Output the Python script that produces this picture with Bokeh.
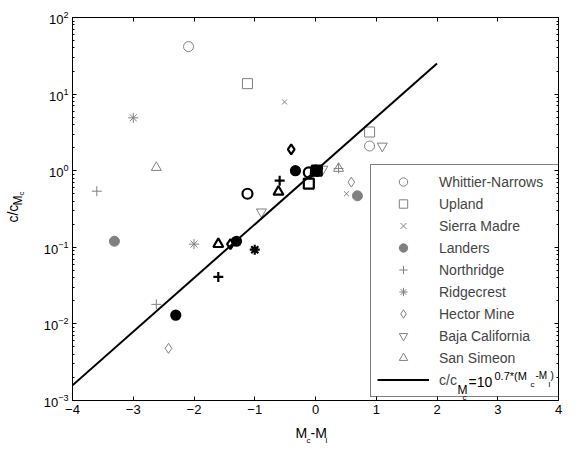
import math
from bokeh.plotting import figure
from bokeh.layouts import row, column
from bokeh.models import (LinearAxis, LogAxis, FixedTicker, Range1d, Legend,
                          LegendItem, Label, LogTickFormatter,
                          CustomJSTickFormatter)
from bokeh.core.properties import value
from bokeh.embed import file_html
from bokeh.resources import INLINE

# ---------------- data ----------------
events = ["Whittier-Narrows", "Upland", "Sierra Madre", "Landers", "Northridge",
          "Ridgecrest", "Hector Mine", "Baja California", "San Simeon"]
markers = ["circle", "square", "x", "circle", "cross", "asterisk", "diamond",
           "inverted_triangle", "triangle"]
filled = [False, False, False, True, False, False, False, False, False]

# grey (thin) markers
gray_x = [[-2.09, 0.89], [-1.12, 0.89], [-0.51, 0.51], [-3.31, 0.69],
          [-3.60, -2.62, 0.38], [-3.0, -2.0], [-2.42, 0.59],
          [-0.89, 1.10, 0.12], [-2.62, 0.38]]
gray_y = [[41.7, 2.1], [13.7, 3.2], [7.9, 0.50], [0.12, 0.47],
          [0.54, 0.018, 1.07], [4.9, 0.11], [0.0048, 0.71],
          [0.29, 2.1, 1.05], [1.1, 1.07]]

# black (bold) markers
black_x = [[-1.12, -0.11], [-0.11, 0.02], [0.0], [-2.30, -1.30, -0.33, 0.0],
           [-1.60, -0.59, 0.0], [-1.0, 0.02], [-1.40, -0.40, 0.0], [0.03],
           [-1.60, -0.61, 0.0]]
black_y = [[0.50, 0.95], [0.68, 1.0], [1.0], [0.013, 0.12, 1.0, 1.0],
           [0.041, 0.74, 1.0], [0.093, 1.0], [0.11, 1.9, 1.0], [1.0],
           [0.11, 0.53, 1.0]]

# fitted relation c/cMc = 10^(0.7*(Mc-Ml))
fit_x = [-4.0, 2.0]
fit_y = [0.00158, 25.1]

x_ticks = [-4, -3, -2, -1, 0, 1, 2, 3, 4]
y_ticks = [1e-3, 1e-2, 1e-1, 1e0, 1e1, 1e2]
y_minor = [m * 10.0 ** e for e in range(-3, 2) for m in range(2, 10)]

FONT = "Liberation Sans"
GRAY = "#808080"
W, H = 582, 449
YL_W = 30          # width of the strip holding the y-axis title
MAIN_H = 424       # height of main figure (x-axis title strip below)
FL, FB = 72, 400   # frame left / bottom in canvas pixels


def sc(cx, cy):
    return cx - FL, FB - cy


p = figure(frame_width=486, frame_height=383, y_axis_type="log",
           x_range=Range1d(-4, 4), y_range=Range1d(1e-3, 1e2),
           min_border_left=FL - YL_W, min_border_right=24, min_border_top=17,
           min_border_bottom=MAIN_H - FB, output_backend="svg",
           toolbar_location=None,
           background_fill_color="white", border_fill_color="white")
p.xgrid.visible = False
p.ygrid.visible = False
p.outline_line_color = "black"
p.outline_line_width = 1


def style_axis(ax):
    ax.axis_line_color = "black"
    ax.major_tick_in = 4
    ax.major_tick_out = 0
    ax.minor_tick_in = 2
    ax.minor_tick_out = 0
    ax.major_tick_line_color = "black"
    ax.minor_tick_line_color = "black"
    ax.major_label_text_font = FONT
    ax.major_label_text_font_size = "13px"
    ax.major_label_text_color = "black"
    ax.major_label_standoff = 4


xa = p.xaxis[0]
xa.ticker = FixedTicker(ticks=x_ticks)
style_axis(xa)
ya = p.yaxis[0]
ya.ticker = FixedTicker(ticks=y_ticks, minor_ticks=y_minor)
ya.formatter = LogTickFormatter()
style_axis(ya)

top = LinearAxis(ticker=FixedTicker(ticks=x_ticks),
                 formatter=CustomJSTickFormatter(code="return ''"))
style_axis(top)
p.add_layout(top, "above")
right = LogAxis(ticker=FixedTicker(ticks=y_ticks, minor_ticks=y_minor),
                formatter=CustomJSTickFormatter(code="return ''"))
style_axis(right)
p.add_layout(right, "right")

items = []
for i, ev in enumerate(events):
    fc = GRAY if filled[i] else None
    sz = 7 if markers[i] == "x" else 10
    r = p.scatter(gray_x[i], gray_y[i], marker=markers[i], size=sz,
                  line_color=GRAY, fill_color=fc, line_width=1)
    items.append(LegendItem(label=ev, renderers=[r]))
for i, ev in enumerate(events):
    fc = "black" if filled[i] else None
    sz = 7 if markers[i] == "x" else (9 if filled[i] else 10)
    p.scatter(black_x[i], black_y[i], marker=markers[i], size=sz,
              line_color="black", fill_color=fc, line_width=2.2)

lr = p.line(fit_x, fit_y, line_color="black", line_width=2)
items.append(LegendItem(label="c/c", renderers=[lr]))

leg = Legend(items=items, location=(298, 3))
leg.label_text_font = FONT
leg.label_text_font_size = "14px"
leg.glyph_width = 52
leg.glyph_height = 21
leg.label_height = 21
leg.label_width = 142
leg.spacing = 1
leg.padding = 6
leg.margin = 0
leg.label_standoff = 10
leg.border_line_color = "black"
leg.border_line_width = 1
leg.background_fill_alpha = 0
p.add_layout(leg)


def lab(text, cx, cy, size):
    sx, sy = sc(cx, cy)
    p.add_layout(Label(x=sx, y=sy, x_units="screen", y_units="screen",
                       text=text, text_font=FONT, text_font_size=f"{size}px",
                       text_color="black", text_baseline="middle",
                       text_align="left", level="overlay"))


# legend formula: c/c_{M_c}=10^{0.7*(M_c-M_l)}  ("c/c" is the legend label)
fy = 381
lab("M", 457, fy + 8, 12)
lab("c", 462, fy + 16, 8)
lab("=10", 468, fy, 14)
lab("0.7*(M", 494, fy - 6, 11)
lab("c", 530, fy + 3, 8)
lab("-M", 535, fy - 6, 10)
lab("l", 548, fy + 3, 8)
lab(")", 550, fy - 6, 10)


def strip(w, h):
    f = figure(width=w, height=h, x_range=Range1d(0, w), y_range=Range1d(0, h),
               min_border=0, output_backend="svg", toolbar_location=None,
               x_axis_location=None, y_axis_location=None,
               background_fill_color="white", border_fill_color="white")
    f.xgrid.visible = False
    f.ygrid.visible = False
    f.outline_line_color = None
    return f


# x-axis title strip: M_c-M_l
xt_text = ["M", "c", "-M", "l"]
xt_x = [295, 306, 310, 325]
xt_y = [432, 440, 432, 440]
xt_size = ["14px", "8px", "14px", "8px"]
xs = strip(W, H - MAIN_H)
xs.text(x=xt_x, y=[H - v for v in xt_y], text=xt_text,
        text_font=value(FONT), text_font_size=xt_size,
        text_baseline="middle", text_align="left", text_color="black")

# y-axis title strip (rotated): c/c_{M_c}
yt_text = ["c/c", "M", "c"]
yt_x = [12, 17, 21]
yt_y = [227, 208, 197]
yt_size = ["14px", "12px", "8px"]
ys = strip(YL_W, MAIN_H)
ys.text(x=yt_x, y=[MAIN_H - v for v in yt_y], text=yt_text,
        text_font=value(FONT), text_font_size=yt_size, angle=math.pi / 2,
        text_baseline="middle", text_align="left", text_color="black")

layout = column(row(ys, p), xs)
open("out.html", "w").write(file_html(layout, INLINE))
